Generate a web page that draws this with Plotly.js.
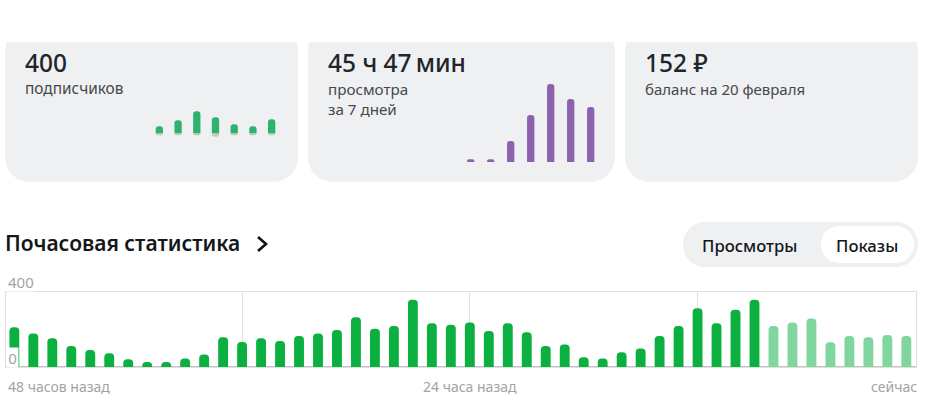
<!DOCTYPE html>
<html><head><meta charset="utf-8">
<script src="https://cdn.plot.ly/plotly-3.0.1.min.js"></script>
<style>html,body{margin:0;padding:0;background:#fff;overflow:hidden}#c{width:927px;height:418px}</style>
</head><body><div id="c"></div>
<script>
const subsDays=[0,1,2,3,4,5,6];
const subsGained=[7,13,22,16,9,7,14];
const subsLost=[-2,-2,-2,-3.5,-2,-2,-2];
const watchDays=[0,1,2,3,4,5,6];
const watchValues=[2.7,2.7,21,47,78,63,55];
const hoursFinal=[0,1,2,3,4,5,6,7,8,9,10,11,12,13,14,15,16,17,18,19,20,21,22,23,24,25,26,27,28,29,30,31,32,33,34,35,36,37,38,39];
const viewsFinal=[211,179,153,112,91,74,42,28,28,47,67,158,134,153,139,165,179,197,264,204,218,357,232,225,237,192,232,185,112,120,53,47,79,99,165,218,311,232,304,357];
const hoursRecent=[40,41,42,43,44,45,46,47];
const viewsRecent=[218,237,257,132,165,158,170,165];
const hourTicks=[12,24,36];
const axisTicks=[0,400];

const W=927,H=418;
const FONT='"Noto Sans", "Open Sans", sans-serif';
const fx=p=>p/W, fy=p=>1-p/H;
const pt=(x,y)=>fx(x).toFixed(5)+' '+fy(y).toFixed(5);
function card(x0,x1,top,bot,r){
  const k=r*0.45;
  return 'M '+pt(x0+1.5,top)+' L '+pt(x1-1.5,top)+' L '+pt(x1,top+8)+' L '+pt(x1,bot-r)+
    ' C '+pt(x1,bot-k)+' '+pt(x1-k,bot)+' '+pt(x1-r,bot)+' L '+pt(x0+r,bot)+
    ' C '+pt(x0+k,bot)+' '+pt(x0,bot-k)+' '+pt(x0,bot-r)+' L '+pt(x0,top+8)+' Z';
}
function pill(x0,x1,y0,y1,r){
  const k=r*0.45;
  return 'M '+pt(x0+r,y0)+' L '+pt(x1-r,y0)+' C '+pt(x1-k,y0)+' '+pt(x1,y0+k)+' '+pt(x1,y0+r)+
   ' L '+pt(x1,y1-r)+' C '+pt(x1,y1-k)+' '+pt(x1-k,y1)+' '+pt(x1-r,y1)+' L '+pt(x0+r,y1)+
   ' C '+pt(x0+k,y1)+' '+pt(x0,y1-k)+' '+pt(x0,y1-r)+' L '+pt(x0,y0+r)+' C '+pt(x0,y0+k)+' '+pt(x0+k,y0)+' '+pt(x0+r,y0)+' Z';
}
const fill=(path,color)=>({type:'path',xref:'paper',yref:'paper',path,fillcolor:color,line:{width:0},layer:'below'});
const shapes=[
 fill(card(5,298,42,182,25),'#eff0f2'),
 fill(card(308,615,42,182,25),'#eff0f2'),
 fill(card(625,918,42,182,25),'#eff0f2'),
 fill(pill(683,918,222,267,22),'#eff0f2'),
 fill(pill(821,914,226,263,18),'#ffffff'),
 {type:'path',xref:'paper',yref:'paper',path:'M '+pt(258,237)+' L '+pt(266,244)+' L '+pt(258,251),line:{color:'#111316',width:2.6},fillcolor:'rgba(0,0,0,0)'}
];
function label(text,x,y,size,color,weight,anchor,extra){
  return Object.assign({text,x:fx(x),y:fy(y),xref:'paper',yref:'paper',xanchor:anchor||'left',yanchor:'middle',
    showarrow:false,borderpad:0,font:{family:FONT,size,color,weight:weight||400}},extra||{});
}
const dark='#22252a',grey='#a3a3a3',sub='#45484d';
const annotations=[
 label('400',24,62,24.5,dark,500),
 label('подписчиков',24,88.5,15.4,sub),
 label('45 ч 47\u2009мин',327,62,24.5,dark,500),
 label('просмотра<br>за 7 дней',327,98.5,15.2,sub,400,'left',{align:'left'}),
 label('152 ₽',644,62,24.5,dark,500),
 label('баланс на 20 февраля',644,88.5,15,sub),
 label('Почасовая статистика',4,243,21,'#15171a',600),
 label('Просмотры',750,245.5,16.7,'#15171a',500,'center'),
 label('Показы',867,245.5,16.7,'#15171a',500,'center'),
 label('400',7,282,15,grey,400,'left',{bgcolor:'#ffffff',width:26,height:18,align:'left'}),
 label('0',6,357,15,grey,400,'left',{bgcolor:'#ffffff',width:11,height:19}),
 label('48 часов назад',7,386.5,14,grey),
 label('24 часа назад',470,386.5,14,grey,400,'center'),
 label('сейчас',917.5,386.5,14,grey,400,'right')
];
const dom=(a,b)=>[a/W,b/W], domY=(top,bot)=>[1-bot/H,1-top/H];
const hide={visible:false,fixedrange:true};

const traces=[
 {type:'bar',x:hoursFinal,y:viewsFinal,width:0.52,marker:{color:'#0bb040',cornerradius:5,line:{width:0}},xaxis:'x',yaxis:'y',hoverinfo:'y'},
 {type:'bar',x:hoursRecent,y:viewsRecent,width:0.52,marker:{color:'#80d69e',cornerradius:5,line:{width:0}},xaxis:'x',yaxis:'y',hoverinfo:'y'},
 {type:'bar',x:subsDays,y:subsLost,width:0.39,marker:{color:'#b9cfc2',cornerradius:3,line:{width:0}},xaxis:'x2',yaxis:'y2',hoverinfo:'y'},
 {type:'bar',x:subsDays,y:subsGained,width:0.39,marker:{color:'#30b26f',cornerradius:3.6,line:{width:0}},xaxis:'x2',yaxis:'y2',hoverinfo:'y'},
 {type:'bar',x:watchDays,y:watchValues,width:0.365,marker:{color:'#8c62ae',cornerradius:3,line:{width:0}},xaxis:'x3',yaxis:'y3',hoverinfo:'y'}
];
const layout={
 width:W,height:H,margin:{l:0,r:0,t:0,b:0},paper_bgcolor:'#ffffff',plot_bgcolor:'rgba(0,0,0,0)',
 showlegend:false,barmode:'relative',shapes,annotations,font:{family:FONT},
 xaxis:{domain:dom(6,916),range:[-0.44,47.51],tickmode:'array',tickvals:hourTicks,ticktext:['','',''],showgrid:true,gridcolor:'#e0e0e0',gridwidth:1,
   showline:true,linecolor:'#e0e0e0',linewidth:1,mirror:true,zeroline:false,ticks:'',fixedrange:true},
 yaxis:{domain:domY(291.5,367.3),range:[0,400],tickmode:'array',tickvals:axisTicks,ticktext:['',''],showgrid:false,
   showline:true,linecolor:'#e0e0e0',linewidth:1,mirror:true,zeroline:true,zerolinecolor:'#c2c4c6',zerolinewidth:1.5,ticks:'',fixedrange:true},
 xaxis2:Object.assign({domain:dom(150,281),range:[-0.5,6.5],anchor:'y2'},hide),
 yaxis2:Object.assign({domain:domY(105,139),range:[-5.7,28.3],anchor:'x2'},hide),
 xaxis3:Object.assign({domain:dom(460.7,600.7),range:[-0.5,6.5],anchor:'y3'},hide),
 yaxis3:Object.assign({domain:domY(80,165),range:[-3,82],anchor:'x3'},hide)
};
Plotly.newPlot('c',traces,layout,{displayModeBar:false,responsive:false});
</script></body></html>
